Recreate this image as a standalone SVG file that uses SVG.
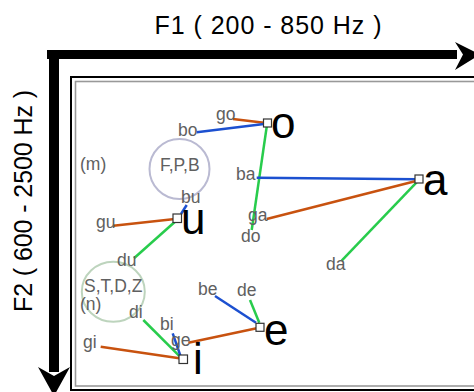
<svg xmlns="http://www.w3.org/2000/svg" width="474" height="392" viewBox="0 0 474 392">
<style>
.lbl{font-family:"Liberation Sans",Arial,sans-serif;font-size:17.5px;fill:#606060}
.vow{font-family:"Liberation Sans",Arial,sans-serif;font-size:44px;fill:#000}
.ttl{font-family:"Liberation Sans",Arial,sans-serif;font-size:25px;fill:#000}
.sq{fill:#fff;stroke:#333;stroke-width:1.2}
.or{stroke:#c8520f;stroke-width:2.5;fill:none}
.bl{stroke:#1c50d0;stroke-width:2.5;fill:none}
.gr{stroke:#28cc4c;stroke-width:2.5;fill:none}
</style>
<rect width="474" height="392" fill="#fff"/>
<g id="frame">
<rect x="71" y="77" width="420" height="313" fill="none" stroke="#000" stroke-width="2"/>
<rect x="75.5" y="81.5" width="420" height="304.5" fill="none" stroke="#999" stroke-width="1.6"/>
</g>
<g id="axes">
<rect x="47" y="50" width="410" height="9" fill="#000"/>
<polygon points="455,42 480,54.5 455,70 463,54.5" fill="#000"/>
<rect x="49" y="50" width="10" height="322" fill="#000"/>
<polygon points="38,367 54,396 70,367 54,376" fill="#000"/>
<text class="ttl" x="268" y="34" text-anchor="middle" textLength="227" lengthAdjust="spacing">F1 ( 200 - 850 Hz )</text>
<text class="ttl" transform="translate(32,201) rotate(-90)" text-anchor="middle" textLength="222" lengthAdjust="spacing">F2 ( 600 - 2500 Hz )</text>
</g>
<g id="groups">
<circle cx="179.5" cy="169" r="30" fill="none" stroke="#babad2" stroke-width="2"/>
<ellipse cx="113.3" cy="291.7" rx="31.5" ry="30" fill="none" stroke="#bdd4bd" stroke-width="2"/>
</g>
<g id="connectors">
<line class="or" x1="233" y1="119" x2="264" y2="122.7"/>
<line class="bl" x1="196.7" y1="132.3" x2="264" y2="124"/>
<line class="gr" x1="266.7" y1="126.7" x2="251.7" y2="230"/>
<line class="bl" x1="256.7" y1="177.7" x2="416" y2="179.3"/>
<line class="or" x1="266.7" y1="219" x2="417" y2="180.7"/>
<line class="gr" x1="417.3" y1="181.7" x2="341.7" y2="260.7"/>
<line class="bl" x1="186.7" y1="205" x2="181" y2="214"/>
<line class="or" x1="113.3" y1="225.7" x2="175" y2="219"/>
<line class="gr" x1="175" y1="221.7" x2="134" y2="258.3"/>
<line class="bl" x1="215" y1="296" x2="256" y2="322.7"/>
<line class="gr" x1="250" y1="300" x2="259.3" y2="322.7"/>
<line class="or" x1="256.7" y1="328.3" x2="188.3" y2="342.7"/>
<line class="gr" x1="143.3" y1="320" x2="180" y2="356.7"/>
<line class="bl" x1="172.7" y1="333.3" x2="180.7" y2="356.7"/>
<line class="or" x1="100.7" y1="346.7" x2="179.3" y2="358.3"/>
</g>
<g id="node-o"><rect class="sq" x="263.5" y="119" width="8" height="8"/><text class="vow" x="271" y="138">o</text></g>
<g id="node-a"><rect class="sq" x="415" y="175" width="8" height="8"/><text class="vow" x="423" y="195">a</text></g>
<g id="node-u"><rect class="sq" x="173" y="214" width="8.5" height="8.5"/><text class="vow" x="181" y="234">u</text></g>
<g id="node-e"><rect class="sq" x="256" y="323.3" width="8" height="8"/><text class="vow" x="264" y="345">e</text></g>
<g id="node-i"><rect class="sq" x="179" y="355" width="8.5" height="8.5"/><text class="vow" x="193" y="374">i</text></g>
<g id="labels">
<text class="lbl" x="216" y="120">go</text>
<text class="lbl" x="178" y="136">bo</text>
<text class="lbl" x="80" y="170">(m)</text>
<text class="lbl" x="160" y="171">F,P,B</text>
<text class="lbl" x="236" y="180">ba</text>
<text class="lbl" x="181" y="203">bu</text>
<text class="lbl" x="96" y="228">gu</text>
<text class="lbl" x="248" y="221">ga</text>
<text class="lbl" x="241" y="242">do</text>
<text class="lbl" x="326" y="270">da</text>
<text class="lbl" x="117" y="266">du</text>
<text class="lbl" x="84" y="292">S,T,D,Z</text>
<text class="lbl" x="80" y="310">(n)</text>
<text class="lbl" x="129" y="318">di</text>
<text class="lbl" x="198" y="295">be</text>
<text class="lbl" x="237" y="296">de</text>
<text class="lbl" x="160" y="330">bi</text>
<text class="lbl" x="171" y="346">ge</text>
<text class="lbl" x="83" y="348">gi</text>
</g>
</svg>
